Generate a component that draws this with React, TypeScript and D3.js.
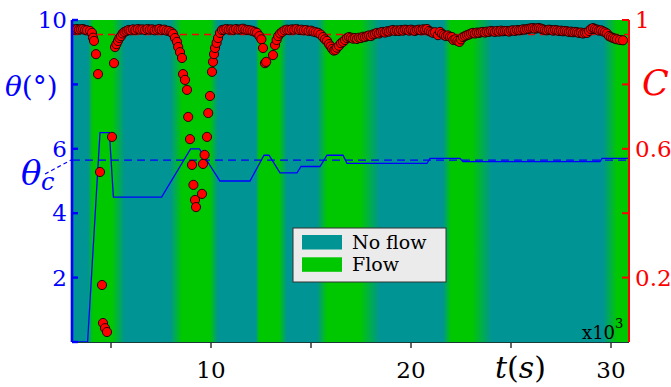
import React from "react";
import * as d3 from "d3";

// ---- data ----
const thetaTime = [3.05, 3.83, 4.45, 4.92, 5.12, 7.53, 8.98, 9.42, 10.45, 11.95, 12.65, 12.9, 13.45, 14.3, 14.5, 15.45, 15.8, 16.6, 16.8, 20.8, 20.95, 22.45, 22.6, 29.45, 29.55, 30.9];
const thetaValue = [0, 0, 6.5, 6.5, 4.5, 4.5, 6.0, 6.0, 5.0, 5.0, 5.8, 5.8, 5.25, 5.25, 5.45, 5.45, 5.8, 5.8, 5.55, 5.55, 5.7, 5.7, 5.6, 5.6, 5.7, 5.7];

const thetaCritical = 5.65;
const cCritical = 0.955;

const flowTimes = [3.05, 3.85, 4.1, 5.05, 5.7, 7.95, 8.55, 9.95, 10.35, 12.25, 12.4, 13.4, 13.8, 15.3, 15.8, 17.45, 18.45, 21.6, 22.0, 23.05, 24.05, 29.6, 30.3, 30.9];
const flowStates = [0, 0, 1, 1, 0, 0, 1, 1, 0, 0, 1, 1, 0, 0, 1, 1, 0, 0, 1, 1, 0, 0, 1, 1];

const cSamples: [number, number][] = [
  [3.1, 0.971], [3.2, 0.97], [3.3, 0.972], [3.4, 0.97], [3.5, 0.971], [3.6, 0.972], [3.7, 0.969], [3.8, 0.968],
  [3.95, 0.966], [4.05, 0.96], [4.1, 0.945], [4.15, 0.935], [4.25, 0.894], [4.35, 0.832], [4.45, 0.528], [4.55, 0.177], [4.6, 0.059], [4.7, 0.043], [4.8, 0.031],
  [5.05, 0.637], [5.15, 0.866], [5.2, 0.916], [5.27, 0.925], [5.35, 0.935], [5.42, 0.944], [5.5, 0.95], [5.58, 0.958], [5.67, 0.963], [5.78, 0.966], [5.88, 0.969],
  [5.98, 0.968], [6.1, 0.971], [6.22, 0.969], [6.34, 0.972], [6.46, 0.97], [6.58, 0.971], [6.7, 0.969], [6.82, 0.972], [6.94, 0.97], [7.06, 0.971], [7.18, 0.968], [7.3, 0.97], [7.42, 0.972], [7.54, 0.969], [7.66, 0.97], [7.78, 0.967], [7.9, 0.966],
  [8.02, 0.962], [8.1, 0.957], [8.2, 0.944], [8.3, 0.932], [8.36, 0.916], [8.45, 0.9], [8.55, 0.882], [8.6, 0.832], [8.7, 0.814], [8.8, 0.783], [8.86, 0.699], [8.95, 0.63], [9.05, 0.55], [9.12, 0.488], [9.2, 0.441], [9.25, 0.419],
  [9.55, 0.46], [9.6, 0.553], [9.68, 0.581], [9.8, 0.637], [9.86, 0.711], [9.95, 0.764], [10.05, 0.839], [10.1, 0.87], [10.15, 0.894], [10.2, 0.913], [10.28, 0.929], [10.35, 0.944], [10.45, 0.96], [10.55, 0.969],
  [10.65, 0.97], [10.77, 0.972], [10.89, 0.97], [11.01, 0.971], [11.13, 0.969], [11.25, 0.972], [11.37, 0.97], [11.49, 0.971], [11.6, 0.973], [11.72, 0.97], [11.84, 0.969], [11.96, 0.968], [12.08, 0.966], [12.2, 0.963],
  [12.3, 0.96], [12.42, 0.95], [12.52, 0.94], [12.6, 0.913], [12.7, 0.866], [12.76, 0.87], [13.1, 0.891], [13.2, 0.922], [13.28, 0.938], [13.36, 0.95], [13.46, 0.958], [13.56, 0.963], [13.68, 0.968],
  [13.8, 0.97], [13.92, 0.969], [14.04, 0.971], [14.16, 0.97], [14.28, 0.972], [14.4, 0.969], [14.52, 0.97], [14.64, 0.968], [14.76, 0.969], [14.88, 0.966], [15.0, 0.967], [15.12, 0.964], [15.24, 0.962],
  [15.36, 0.96], [15.48, 0.955], [15.6, 0.947], [15.7, 0.94], [15.8, 0.935], [15.9, 0.925], [15.98, 0.918], [16.06, 0.91], [16.14, 0.905], [16.22, 0.907], [16.3, 0.914], [16.4, 0.92], [16.5, 0.928], [16.6, 0.932], [16.7, 0.938], [16.8, 0.944], [16.9, 0.947],
  [17.0, 0.945], [17.1, 0.942], [17.2, 0.944], [17.3, 0.941], [17.4, 0.945], [17.5, 0.944], [17.6, 0.948], [17.7, 0.947], [17.8, 0.95], [17.9, 0.952], [18.0, 0.95], [18.1, 0.955], [18.2, 0.957], [18.3, 0.96], [18.4, 0.958], [18.5, 0.962], [18.6, 0.963], [18.7, 0.961], [18.8, 0.965], [18.9, 0.964],
  [19.0, 0.967], [19.1, 0.969], [19.2, 0.966], [19.3, 0.968], [19.4, 0.966], [19.5, 0.969], [19.6, 0.967], [19.7, 0.97], [19.8, 0.969], [19.9, 0.967], [20.0, 0.97], [20.1, 0.968], [20.2, 0.966], [20.3, 0.969], [20.4, 0.97], [20.5, 0.968], [20.6, 0.971], [20.7, 0.97], [20.8, 0.972], [20.9, 0.966],
  [21.0, 0.963], [21.1, 0.96], [21.2, 0.962], [21.35, 0.953], [21.45, 0.963], [21.55, 0.957], [21.65, 0.953], [21.75, 0.95], [21.85, 0.952], [21.95, 0.948], [22.05, 0.947], [22.12, 0.938], [22.22, 0.94], [22.32, 0.935], [22.42, 0.932], [22.5, 0.94], [22.6, 0.947], [22.7, 0.95], [22.8, 0.953], [22.9, 0.955],
  [23.0, 0.958], [23.1, 0.96], [23.2, 0.958], [23.3, 0.961], [23.4, 0.96], [23.5, 0.962], [23.6, 0.963], [23.7, 0.961], [23.8, 0.964], [23.9, 0.963], [24.0, 0.966], [24.1, 0.965], [24.2, 0.963], [24.3, 0.966], [24.4, 0.964], [24.5, 0.967], [24.6, 0.965], [24.7, 0.966], [24.8, 0.966], [24.9, 0.964],
  [25.0, 0.967], [25.1, 0.968], [25.2, 0.966], [25.3, 0.969], [25.4, 0.968], [25.5, 0.969], [25.6, 0.971], [25.7, 0.97], [25.8, 0.972], [25.9, 0.973], [26.0, 0.974], [26.1, 0.975], [26.2, 0.973], [26.3, 0.974], [26.4, 0.975], [26.5, 0.973], [26.6, 0.971], [26.7, 0.969], [26.8, 0.968], [26.9, 0.97],
  [27.0, 0.969], [27.1, 0.967], [27.2, 0.969], [27.3, 0.968], [27.4, 0.966], [27.5, 0.967], [27.6, 0.965], [27.7, 0.966], [27.8, 0.965], [27.9, 0.963], [28.0, 0.964], [28.1, 0.962], [28.2, 0.963], [28.3, 0.962], [28.4, 0.96], [28.5, 0.961], [28.6, 0.958], [28.7, 0.96], [28.8, 0.96], [28.9, 0.966],
  [29.0, 0.972], [29.1, 0.975], [29.2, 0.972], [29.3, 0.97], [29.4, 0.967], [29.5, 0.968], [29.6, 0.965], [29.7, 0.962], [29.8, 0.958], [29.9, 0.95], [30.0, 0.947], [30.1, 0.944], [30.2, 0.942], [30.3, 0.94], [30.45, 0.938], [30.6, 0.937],
];

const xTicks = [5, 10, 15, 20, 25, 30];
const xTickLabels = ["", "10", "", "20", "", "30"];
const thetaTicks = [0, 2, 4, 6, 8, 10];
const thetaTickLabels = ["", "2", "4", "6", "", "10"];
const cTicks = [0.2, 0.4, 0.6, 0.8, 1];
const cTickLabels = ["0.2", "", "0.6", "", "1"];
const legendLabels = ["No flow", "Flow"];

// ---- styling ----
const W = 671, H = 387;
const L = 72, R = 629, T = 20, B = 342;
const TEAL = "#009494";
const GREEN = "#00c800";
const BLUE = "#0000ff";
const RED = "#ff0000";
const SERIF = "'DejaVu Serif', 'Liberation Serif', 'Times New Roman', serif";

export default function App() {
  const x = d3.scaleLinear().domain([3.05, 30.9]).range([L, R]);
  const yT = d3.scaleLinear().domain([0, 10]).range([B, T]);
  const yC = d3.scaleLinear().domain([0, 1]).range([B, T]);
  const colorOf = d3.interpolateRgb(TEAL, GREEN);

  const thetaLine = d3
    .line<number>()
    .x((_, i) => x(thetaTime[i]))
    .y((v) => yT(v))(thetaValue) as string;

  const span = x(30.9) - x(3.05);
  const tx = { fontFamily: SERIF } as React.CSSProperties;

  return (
    <svg width={W} height={H} style={{ position: "absolute", left: 0, top: 0, background: "#fff", fontFamily: SERIF }}>
      <defs>
        <linearGradient id="flowGrad" gradientUnits="userSpaceOnUse" x1={x(3.05)} x2={x(30.9)} y1={0} y2={0}>
          {flowTimes.map((t, i) => (
            <stop key={i} offset={(x(t) - x(3.05)) / span} stopColor={colorOf(flowStates[i])} />
          ))}
        </linearGradient>
        <clipPath id="plotClip">
          <rect x={L} y={T} width={R - L} height={B - T} />
        </clipPath>
      </defs>

      <rect x={L} y={T} width={R - L} height={B - T} fill="url(#flowGrad)" />
      <line x1={L} x2={R} y1={B + 0.5} y2={B + 0.5} stroke="#1a3a3a" strokeWidth={1} />

      <g clipPath="url(#plotClip)">
        <line x1={L} x2={R} y1={yC(cCritical)} y2={yC(cCritical)} stroke={RED} strokeWidth={1.3} strokeDasharray="7,5" />
        <line x1={L} x2={R} y1={yT(thetaCritical)} y2={yT(thetaCritical)} stroke={BLUE} strokeWidth={1.3} strokeDasharray="8,5" />
        <path d={thetaLine} fill="none" stroke={BLUE} strokeWidth={1.3} />
        {cSamples.map(([t, c], i) => (
          <circle key={i} cx={x(t)} cy={yC(c)} r={4.6} fill={RED} stroke="#1a0000" strokeWidth={0.9} />
        ))}
      </g>

      <line x1={45} y1={174} x2={L - 1} y2={yT(thetaCritical)} stroke={BLUE} strokeWidth={1.2} strokeDasharray="4,3" />

      <line x1={L} x2={L} y1={T} y2={B} stroke={BLUE} strokeWidth={2.6} />
      {thetaTicks.map((v, i) => (
        <g key={i}>
          <line x1={L} x2={L + 6} y1={yT(v)} y2={yT(v)} stroke={BLUE} strokeWidth={2.4} />
          {thetaTickLabels[i] && (
            <text style={tx} x={67} y={yT(v)} dy="0.35em" textAnchor="end" fontSize={23} fill={BLUE}>
              {thetaTickLabels[i]}
            </text>
          )}
        </g>
      ))}

      <line x1={R} x2={R} y1={T} y2={B} stroke={RED} strokeWidth={2} />
      {cTicks.map((v, i) => (
        <g key={i}>
          <line x1={R - 7} x2={R} y1={yC(v)} y2={yC(v)} stroke={RED} strokeWidth={2} />
          {cTickLabels[i] && (
            <text style={tx} x={635} y={yC(v)} dy="0.35em" textAnchor="start" fontSize={23} fill={RED}>
              {cTickLabels[i]}
            </text>
          )}
        </g>
      ))}

      {xTicks.map((v, i) => (
        <g key={i}>
          <line x1={x(v)} x2={x(v)} y1={B + 1} y2={B + 6} stroke="#000" strokeWidth={1.2} />
          {xTickLabels[i] && (
            <text style={tx} x={x(v)} y={378} textAnchor="middle" fontSize={23} fill="#000">
              {xTickLabels[i]}
            </text>
          )}
        </g>
      ))}
      <text style={tx} x={582} y={339} fontSize={18} fill="#000">x10</text>
      <text style={tx} x={615} y={328} fontSize={13} fill="#000">3</text>

      <text style={tx} x={495} y={378} fontSize={30} fill="#000">
        <tspan fontStyle="italic">t</tspan>(<tspan fontStyle="italic">s</tspan>)
      </text>
      <text style={tx} x={5} y={96} fontSize={28} fill={BLUE}>
        <tspan fontStyle="italic">θ</tspan>(°)
      </text>
      <text style={tx} x={642} y={95} fontSize={35} fill={RED} fontStyle="italic">C</text>
      <text style={tx} x={21} y={185} fontSize={34} fill={BLUE} fontStyle="italic">θ</text>
      <text style={tx} x={41} y={190} fontSize={24} fill={BLUE} fontStyle="italic">c</text>

      <rect x={293} y={228} width={153} height={54} fill="#ebebeb" stroke="#333" strokeWidth={1} />
      {legendLabels.map((lab, i) => (
        <g key={lab}>
          <rect x={302} y={235 + i * 22.3} width={40} height={14.5} fill={i === 0 ? TEAL : GREEN} />
          <text style={tx} x={352} y={249 + i * 22.3} fontSize={19} fill="#000">{lab}</text>
        </g>
      ))}
    </svg>
  );
}
